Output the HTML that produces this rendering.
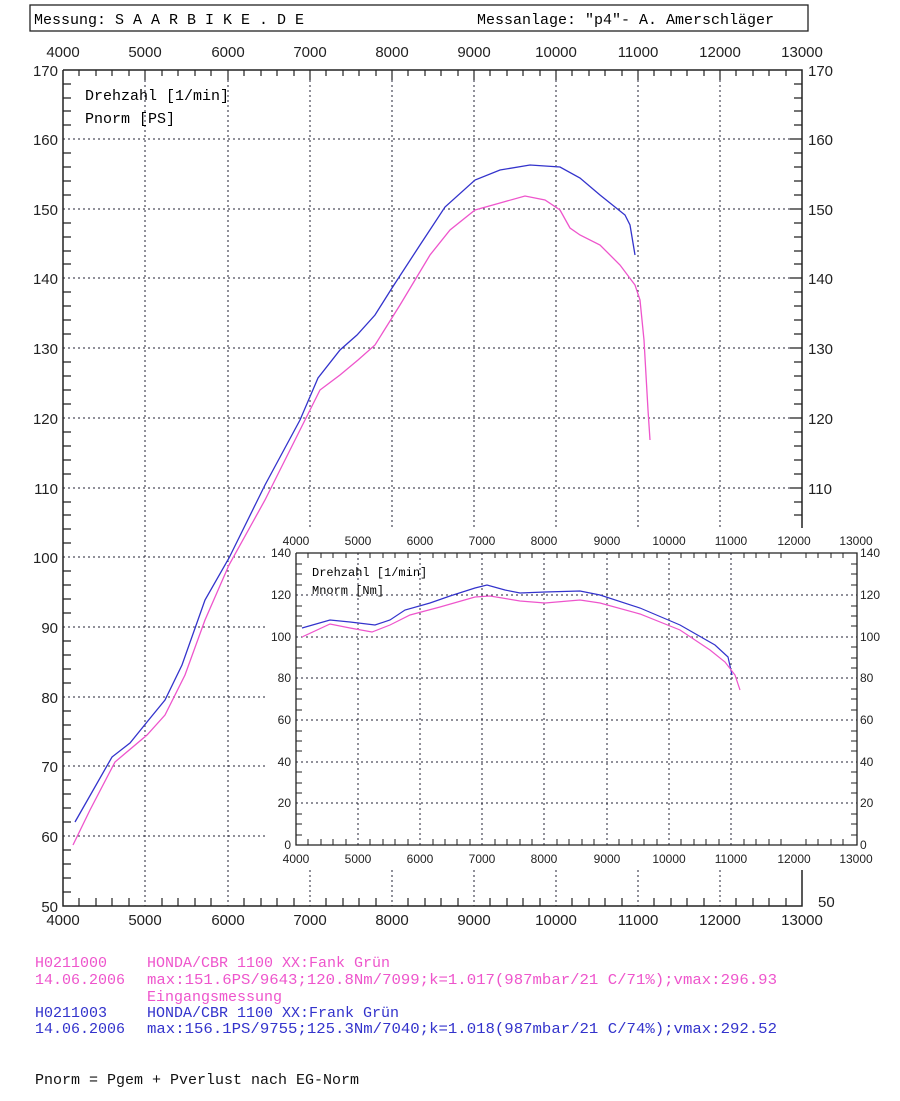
<!DOCTYPE html>
<html><head><meta charset="utf-8"><style>
body{margin:0;background:#fff;width:900px;height:1096px;overflow:hidden}
svg{font-family:"Liberation Sans",sans-serif}
svg .m, svg .m text{font-family:"Liberation Mono",monospace}
</style></head><body>
<svg width="900" height="1096" xmlns="http://www.w3.org/2000/svg">
<rect x="30" y="5" width="778" height="26" fill="none" stroke="#222" stroke-width="1.3"/>
<text class="m" x="34" y="24" font-size="15">Messung: S A A R B I K E . D E</text>
<text class="m" x="477" y="24" font-size="15">Messanlage: "p4"- A. Amerschläger</text>
<g font-size="15" fill="#222" text-anchor="middle">
<text x="63" y="57">4000</text><text x="145" y="57">5000</text><text x="228" y="57">6000</text><text x="310" y="57">7000</text><text x="392" y="57">8000</text><text x="474" y="57">9000</text><text x="556" y="57">10000</text><text x="638" y="57">11000</text><text x="720" y="57">12000</text><text x="802" y="57">13000</text>
<text x="63" y="925">4000</text><text x="145" y="925">5000</text><text x="228" y="925">6000</text><text x="310" y="925">7000</text><text x="392" y="925">8000</text><text x="474" y="925">9000</text><text x="556" y="925">10000</text><text x="638" y="925">11000</text><text x="720" y="925">12000</text><text x="802" y="925">13000</text>
</g>
<g font-size="15" fill="#222" text-anchor="end">
<text x="58" y="76">170</text><text x="58" y="145">160</text><text x="58" y="215">150</text><text x="58" y="284">140</text><text x="58" y="354">130</text><text x="58" y="424">120</text><text x="58" y="494">110</text><text x="58" y="563">100</text><text x="58" y="633">90</text><text x="58" y="703">80</text><text x="58" y="772">70</text><text x="58" y="842">60</text><text x="58" y="912">50</text>
</g>
<g font-size="15" fill="#222">
<text x="808" y="76">170</text><text x="808" y="145">160</text><text x="808" y="215">150</text><text x="808" y="284">140</text><text x="808" y="354">130</text><text x="808" y="424">120</text><text x="808" y="494">110</text><text x="818" y="907">50</text>
</g>
<g stroke="#223" stroke-width="1" stroke-dasharray="2,3" fill="none">
<path d="M145 70V906M228 70V906M310 70V906M392 70V906M474 70V906M556 70V906M638 70V906M720 70V906"/>
<path d="M63 139H802M63 209H802M63 278H802M63 348H802M63 418H802M63 488H802M63 557H802M63 627H802M63 697H802M63 766H802M63 836H802"/>
</g>
<path d="M63 70V906H802V70H63" fill="none" stroke="#222" stroke-width="1.5"/>
<g stroke="#222" stroke-width="1.2">
<path d="M79 70v6M96 70v6M112 70v6M129 70v6M162 70v6M178 70v6M195 70v6M211 70v6M244 70v6M261 70v6M277 70v6M294 70v6M326 70v6M343 70v6M359 70v6M376 70v6M408 70v6M425 70v6M441 70v6M458 70v6M490 70v6M507 70v6M523 70v6M540 70v6M572 70v6M589 70v6M605 70v6M622 70v6M654 70v6M671 70v6M687 70v6M704 70v6M736 70v6M753 70v6M769 70v6M786 70v6M145 70v10M228 70v10M310 70v10M392 70v10M474 70v10M556 70v10M638 70v10M720 70v10"/>
<path d="M79 906v-8M96 906v-8M112 906v-8M129 906v-8M162 906v-8M178 906v-8M195 906v-8M211 906v-8M244 906v-8M261 906v-8M277 906v-8M294 906v-8M326 906v-8M343 906v-8M359 906v-8M376 906v-8M408 906v-8M425 906v-8M441 906v-8M458 906v-8M490 906v-8M507 906v-8M523 906v-8M540 906v-8M572 906v-8M589 906v-8M605 906v-8M622 906v-8M654 906v-8M671 906v-8M687 906v-8M704 906v-8M736 906v-8M753 906v-8M769 906v-8M786 906v-8"/>
<path d="M63 84h8M63 98h8M63 111h8M63 125h8M63 153h8M63 167h8M63 181h8M63 195h8M63 223h8M63 237h8M63 251h8M63 264h8M63 292h8M63 306h8M63 320h8M63 334h8M63 362h8M63 376h8M63 390h8M63 404h8M63 432h8M63 446h8M63 460h8M63 474h8M63 502h8M63 515h8M63 529h8M63 543h8M63 571h8M63 585h8M63 599h8M63 613h8M63 641h8M63 655h8M63 669h8M63 683h8M63 711h8M63 725h8M63 739h8M63 752h8M63 780h8M63 794h8M63 808h8M63 822h8M63 850h8M63 864h8M63 878h8M63 892h8"/>
<path d="M802 84h-8M802 98h-8M802 111h-8M802 125h-8M802 153h-8M802 167h-8M802 181h-8M802 195h-8M802 223h-8M802 237h-8M802 251h-8M802 264h-8M802 292h-8M802 306h-8M802 320h-8M802 334h-8M802 362h-8M802 376h-8M802 390h-8M802 404h-8M802 432h-8M802 446h-8M802 460h-8M802 474h-8M802 502h-8M802 515h-8M802 139h-12M802 209h-12M802 278h-12M802 348h-12M802 418h-12M802 488h-12"/>
</g>
<text class="m" x="85" y="100" font-size="15">Drehzahl [1/min]</text>
<text class="m" x="85" y="123" font-size="15">Pnorm [PS]</text>
<polyline fill="none" stroke="#3333cc" stroke-width="1.3" points="75,822 112,757 130,743 147,722 165,700 182,665 205,600 229,558 265,485 300,420 318,378 340,350 357,335 375,315 392,288 420,245 445,207 475,180 500,170 530,165 560,167 580,178 600,195 625,215 630,225 635,255"/>
<polyline fill="none" stroke="#ee55cc" stroke-width="1.3" points="73,845 90,810 115,762 147,735 165,715 185,675 205,620 229,565 265,500 290,450 320,390 340,375 358,360 375,345 400,305 430,255 450,230 475,210 500,203 525,196 545,200 560,210 570,228 580,235 600,245 620,265 635,285 640,300 644,340 648,410 650,440"/>
<rect x="268" y="528" width="615" height="342" fill="#fff"/>
<g font-size="12" fill="#222" text-anchor="middle">
<text x="296" y="545">4000</text><text x="358" y="545">5000</text><text x="420" y="545">6000</text><text x="482" y="545">7000</text><text x="544" y="545">8000</text><text x="607" y="545">9000</text><text x="669" y="545">10000</text><text x="731" y="545">11000</text><text x="794" y="545">12000</text><text x="856" y="545">13000</text>
<text x="296" y="863">4000</text><text x="358" y="863">5000</text><text x="420" y="863">6000</text><text x="482" y="863">7000</text><text x="544" y="863">8000</text><text x="607" y="863">9000</text><text x="669" y="863">10000</text><text x="731" y="863">11000</text><text x="794" y="863">12000</text><text x="856" y="863">13000</text>
</g>
<g font-size="12" fill="#222" text-anchor="end">
<text x="291" y="557">140</text><text x="291" y="599">120</text><text x="291" y="641">100</text><text x="291" y="682">80</text><text x="291" y="724">60</text><text x="291" y="766">40</text><text x="291" y="807">20</text><text x="291" y="849">0</text>
</g>
<g font-size="12" fill="#222">
<text x="860" y="557">140</text><text x="860" y="599">120</text><text x="860" y="641">100</text><text x="860" y="682">80</text><text x="860" y="724">60</text><text x="860" y="766">40</text><text x="860" y="807">20</text><text x="860" y="849">0</text>
</g>
<g stroke="#223" stroke-width="1" stroke-dasharray="2,3" fill="none">
<path d="M358 553V845M420 553V845M482 553V845M544 553V845M607 553V845M669 553V845M731 553V845"/>
<path d="M296 595H857M296 637H857M296 678H857M296 720H857M296 762H857M296 803H857"/>
</g>
<path d="M296 553V845H857V553H296" fill="none" stroke="#222" stroke-width="1.3"/>
<g stroke="#222" stroke-width="1">
<path d="M308 553v5M321 553v5M333 553v5M346 553v5M370 553v5M383 553v5M395 553v5M408 553v5M433 553v5M445 553v5M457 553v5M470 553v5M495 553v5M507 553v5M520 553v5M532 553v5M557 553v5M569 553v5M582 553v5M594 553v5M619 553v5M632 553v5M644 553v5M657 553v5M681 553v5M694 553v5M706 553v5M719 553v5M744 553v5M756 553v5M769 553v5M781 553v5M806 553v5M818 553v5M831 553v5M843 553v5"/>
<path d="M308 845v-6M321 845v-6M333 845v-6M346 845v-6M370 845v-6M383 845v-6M395 845v-6M408 845v-6M433 845v-6M445 845v-6M457 845v-6M470 845v-6M495 845v-6M507 845v-6M520 845v-6M532 845v-6M557 845v-6M569 845v-6M582 845v-6M594 845v-6M619 845v-6M632 845v-6M644 845v-6M657 845v-6M681 845v-6M694 845v-6M706 845v-6M719 845v-6M744 845v-6M756 845v-6M769 845v-6M781 845v-6M806 845v-6M818 845v-6M831 845v-6M843 845v-6"/>
<path d="M296 564h6M296 574h6M296 585h6M296 606h6M296 616h6M296 626h6M296 647h6M296 658h6M296 668h6M296 689h6M296 699h6M296 710h6M296 731h6M296 741h6M296 751h6M296 772h6M296 783h6M296 793h6M296 814h6M296 824h6M296 835h6"/>
<path d="M857 564h-6M857 574h-6M857 585h-6M857 606h-6M857 616h-6M857 626h-6M857 647h-6M857 658h-6M857 668h-6M857 689h-6M857 699h-6M857 710h-6M857 731h-6M857 741h-6M857 751h-6M857 772h-6M857 783h-6M857 793h-6M857 814h-6M857 824h-6M857 835h-6"/>
</g>
<text class="m" x="312" y="576" font-size="12">Drehzahl [1/min]</text>
<text class="m" x="312" y="594" font-size="12">Mnorm [Nm]</text>
<polyline fill="none" stroke="#3333cc" stroke-width="1.2" points="302,628 330,620 350,622 375,625 390,620 405,610 430,603 450,596 475,588 487,585 505,590 520,593 545,592 580,591 600,595 640,608 680,625 715,645 728,657 732,675"/>
<polyline fill="none" stroke="#ee55cc" stroke-width="1.2" points="302,637 330,624 350,628 372,632 390,625 410,615 440,607 475,597 490,596 520,601 545,603 580,600 600,603 640,614 680,630 710,650 725,662 735,675 740,690"/>
<g class="m" font-size="15">
<text x="35" y="967" fill="#ee55cc">H0211000</text><text x="147" y="967" fill="#ee55cc">HONDA/CBR 1100 XX:Fank Grün</text>
<text x="35" y="984" fill="#ee55cc">14.06.2006</text><text x="147" y="984" fill="#ee55cc" textLength="630" lengthAdjust="spacingAndGlyphs">max:151.6PS/9643;120.8Nm/7099;k=1.017(987mbar/21 C/71%);vmax:296.93</text>
<text x="147" y="1001" fill="#ee55cc">Eingangsmessung</text>
<text x="35" y="1017" fill="#3333cc">H0211003</text><text x="147" y="1017" fill="#3333cc">HONDA/CBR 1100 XX:Frank Grün</text>
<text x="35" y="1033" fill="#3333cc">14.06.2006</text><text x="147" y="1033" fill="#3333cc" textLength="630" lengthAdjust="spacingAndGlyphs">max:156.1PS/9755;125.3Nm/7040;k=1.018(987mbar/21 C/74%);vmax:292.52</text>
<text x="35" y="1084" fill="#111">Pnorm = Pgem + Pverlust nach EG-Norm</text>
</g>
</svg>
</body></html>
